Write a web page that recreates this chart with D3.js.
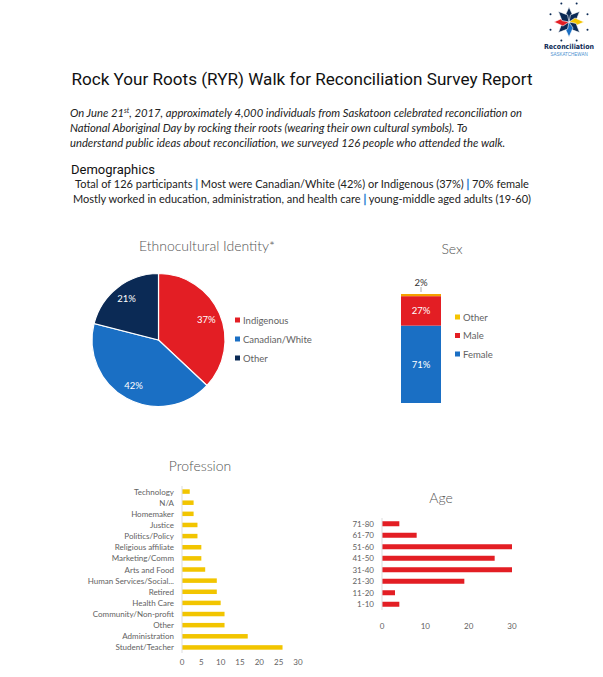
<!DOCTYPE html>
<html>
<head>
    <title>RYR Walk Survey Report</title>
</head>
<body>
<style type="text/css">
    body {
        margin: 0;
        background: #fff;
    }

    #renderer {
        width: 603px;
        height: 677px;
        background: #FFF;
        display: block;
    }
</style>
<script type="text/javascript" src="https://cdnjs.cloudflare.com/ajax/libs/d3/7.8.5/d3.min.js"></script>
<svg id='renderer'></svg>

<script type="text/javascript">
    // data
    var identityNames = ['Indigenous', 'Canadian/White', 'Other'];
    var identityValues = [37, 42, 21];
    var identityColors = ['#e31e24', '#1a6fc4', '#0b2a55'];

    var sexNames = ['Female', 'Male', 'Other'];
    var sexValues = [71, 27, 2];
    var sexColors = ['#1a6fc4', '#e31e24', '#f5c400'];

    var professionNames = ['Technology', 'N/A', 'Homemaker', 'Justice', 'Politics/Policy', 'Religious affiliate',
        'Marketing/Comm', 'Arts and Food', 'Human Services/Social...', 'Retired', 'Health Care',
        'Community/Non-profit', 'Other ', 'Administration', 'Student/Teacher'];
    var professionValues = [2, 3, 3, 4, 4, 5, 5, 6, 9, 9, 10, 11, 11, 17, 26];
    var professionTicks = [0, 5, 10, 15, 20, 25, 30];

    var ageNames = ['71-80', '61-70', '51-60', '41-50', '31-40', '21-30', '11-20', '1-10'];
    var ageValues = [4, 8, 30, 26, 30, 19, 3, 4];
    var ageTicks = [0, 10, 20, 30];

    var root = d3.select('#renderer');
    var textFont = 'Lato, "Open Sans", sans-serif';
    var gray = '#626262';

    // logo
    drawLogo(569, 22);

    // header
    root.append('text')
        .text('Rock Your Roots (RYR) Walk for Reconciliation Survey Report')
        .attr('x', 302).attr('y', 85)
        .attr('font-family', 'Roboto, sans-serif')
        .attr('font-size', 17.1)
        .attr('fill', '#111')
        .attr('text-anchor', 'middle');

    var para = root.append('g')
        .attr('font-family', textFont)
        .attr('font-style', 'italic')
        .attr('font-size', 11.25)
        .attr('fill', '#222');
    var p1 = para.append('text').attr('x', 70).attr('y', 117);
    p1.append('tspan').text('On June 21');
    p1.append('tspan').text('st').attr('font-size', 7).attr('dy', -4);
    p1.append('tspan').text(', 2017, approximately 4,000 individuals from Saskatoon celebrated reconciliation on').attr('dy', 4);
    para.append('text').attr('x', 70).attr('y', 132)
        .text('National Aboriginal Day by rocking their roots (wearing their own cultural symbols). To');
    para.append('text').attr('x', 70).attr('y', 147)
        .text('understand public ideas about reconciliation, we surveyed 126 people who attended the walk.');

    root.append('text')
        .text('Demographics')
        .attr('x', 71).attr('y', 174)
        .attr('font-family', 'Roboto, sans-serif')
        .attr('font-size', 13)
        .attr('fill', '#111');

    var demoLines = [
        ['Total of 126 participants ', ' Most were Canadian/White (42%) or Indigenous (37%) ', ' 70% female'],
        ['Mostly worked in education, administration, and health care ', ' young-middle aged adults (19-60)']
    ];
    demoLines.forEach(function (parts, i) {
        var t = root.append('text')
            .attr('x', 302).attr('y', 188 + i * 15)
            .attr('font-family', textFont)
            .attr('font-size', 11)
            .attr('fill', '#222')
            .attr('text-anchor', 'middle');
        parts.forEach(function (p, j) {
            if (j > 0) t.append('tspan').text('|').attr('fill', '#3d8fd6')
                .attr('stroke', '#3d8fd6').attr('stroke-width', 0.6);
            t.append('tspan').text(p);
        });
    });

    // section titles
    function sectionTitle(label, x, y) {
        root.append('text')
            .text(label)
            .attr('x', x).attr('y', y)
            .attr('font-family', textFont)
            .attr('font-size', 14)
            .attr('font-weight', 300)
            .attr('fill', '#555')
            .attr('text-anchor', 'middle');
    }
    sectionTitle('Ethnocultural Identity*', 207, 251);
    sectionTitle('Sex', 452, 254);
    sectionTitle('Profession', 200, 471);
    sectionTitle('Age', 441, 503);

    drawPie();
    drawSexBar();
    drawHBar(professionNames, professionValues, professionTicks, 182, 298, 486, 653, '#f2c500', 4.5, 662);
    drawHBar(ageNames, ageValues, ageTicks, 382, 512, 518, 610, '#e31e24', 5, 626);

    function drawPie() {
        var cx = 158.5, cy = 340, r = 66.5;
        var pie = d3.pie().sort(null).value(function (d) { return d; });
        var arcs = pie(identityValues);
        var arc = d3.arc().innerRadius(0).outerRadius(r);
        var labelArc = d3.arc().innerRadius(52).outerRadius(52);
        var g = root.append('g').attr('transform', 'translate(' + cx + ',' + cy + ')');
        g.selectAll('path').data(arcs).enter().append('path')
            .attr('d', arc)
            .attr('fill', function (d, i) { return identityColors[i]; })
            .attr('stroke', '#fff')
            .attr('stroke-width', 1.2);
        g.selectAll('text').data(arcs).enter().append('text')
            .text(function (d) { return d.data + '%'; })
            .attr('transform', function (d) {
                var c = labelArc.centroid(d);
                return 'translate(' + c[0] + ',' + c[1] + ')';
            })
            .attr('font-family', textFont)
            .attr('font-size', 9.5)
            .attr('fill', '#fff')
            .attr('text-anchor', 'middle')
            .attr('dominant-baseline', 'central');

        var lg = root.append('g').attr('font-family', textFont).attr('font-size', 9.5).attr('fill', gray);
        identityNames.forEach(function (n, i) {
            var y = 320 + i * 19;
            lg.append('rect').attr('x', 235).attr('y', y - 2.5).attr('width', 5).attr('height', 5)
                .attr('fill', identityColors[i]);
            lg.append('text').text(n).attr('x', 243).attr('y', y)
                .attr('dominant-baseline', 'central');
        });
    }

    function drawSexBar() {
        var y = d3.scaleLinear().domain([0, 100]).range([403, 294]);
        var x0 = 401, w = 40;
        var acc = 0;
        var labelY = [];
        sexValues.forEach(function (v, i) {
            root.append('rect')
                .attr('x', x0)
                .attr('y', y(acc + v))
                .attr('width', w)
                .attr('height', y(acc) - y(acc + v))
                .attr('fill', i === 2 ? '#f5a000' : sexColors[i]);
            labelY.push(y(acc + v / 2));
            acc += v;
        });
        var lt = root.append('g').attr('font-family', textFont).attr('font-size', 9.5).attr('text-anchor', 'middle');
        lt.append('text').text(sexValues[0] + '%').attr('x', x0 + w / 2).attr('y', labelY[0])
            .attr('fill', '#fff').attr('dominant-baseline', 'central');
        lt.append('text').text(sexValues[1] + '%').attr('x', x0 + w / 2).attr('y', labelY[1])
            .attr('fill', '#fff').attr('dominant-baseline', 'central');
        lt.append('text').text(sexValues[2] + '%').attr('x', x0 + w / 2).attr('y', y(100) - 12)
            .attr('fill', '#333').attr('dominant-baseline', 'central');
        root.append('line')
            .attr('x1', x0 + w / 2).attr('x2', x0 + w / 2)
            .attr('y1', y(100) - 7).attr('y2', y(100) - 2)
            .attr('stroke', '#aaa');

        var lg = root.append('g').attr('font-family', textFont).attr('font-size', 9.5).attr('fill', gray);
        [2, 1, 0].forEach(function (idx, i) {
            var yy = 317 + i * 18.5;
            lg.append('rect').attr('x', 455).attr('y', yy - 2.5).attr('width', 5).attr('height', 5)
                .attr('fill', sexColors[idx]);
            lg.append('text').text(sexNames[idx]).attr('x', 463).attr('y', yy)
                .attr('dominant-baseline', 'central');
        });
    }

    function drawHBar(names, values, ticks, xStart, xEnd, yTop, yBottom, color, barH, tickY) {
        var x = d3.scaleLinear().domain([ticks[0], ticks[ticks.length - 1]]).range([xStart, xEnd]);
        var y = d3.scaleBand().domain(names).range([yTop, yBottom]);
        var g = root.append('g').attr('font-family', textFont).attr('font-size', 8);

        g.selectAll('rect').data(values).enter().append('rect')
            .attr('x', x(0))
            .attr('y', function (d, i) { return y(names[i]) + y.bandwidth() / 2 - barH / 2; })
            .attr('width', function (d) { return x(d) - x(0); })
            .attr('height', barH)
            .attr('fill', color);

        g.append('line')
            .attr('x1', x(0)).attr('x2', x(0))
            .attr('y1', yTop).attr('y2', yBottom)
            .attr('stroke', '#ddd');

        g.selectAll('.cat').data(names).enter().append('text')
            .text(function (d) { return d; })
            .attr('x', x(0) - 8)
            .attr('y', function (d) { return y(d) + y.bandwidth() / 2; })
            .attr('text-anchor', 'end')
            .attr('dominant-baseline', 'central')
            .attr('fill', gray);

        g.selectAll('.tick').data(ticks).enter().append('text')
            .text(function (d) { return d; })
            .attr('x', function (d) { return x(d); })
            .attr('y', tickY)
            .attr('text-anchor', 'middle')
            .attr('dominant-baseline', 'central')
            .attr('fill', gray);
    }

    function drawLogo(cx, cy) {
        var g = root.append('g').attr('transform', 'translate(' + cx + ',' + cy + ')');
        var pointColors = ['#0b2a55', '#0b2a55', '#f2c500', '#0b2a55', '#1a6fc4', '#0b2a55', '#e31e24', '#0b2a55'];
        for (var i = 0; i < 8; i++) {
            var a = i * 45;
            g.append('path')
                .attr('d', 'M0,0 L4,-6 L0,-15 L-4,-6 Z')
                .attr('transform', 'rotate(' + a + ')')
                .attr('fill', pointColors[i])
                .attr('stroke', '#fff')
                .attr('stroke-width', 0.6);
            var ra = (a + 22.5) * Math.PI / 180;
            g.append('circle')
                .attr('cx', Math.sin(ra) * 20).attr('cy', -Math.cos(ra) * 20)
                .attr('r', 1).attr('fill', '#0b2a55');
        }
        g.append('text').text('Reconciliation')
            .attr('x', 0).attr('y', 27)
            .attr('font-family', '"Liberation Sans Narrow", "DejaVu Sans Condensed", sans-serif')
            .attr('font-weight', 'bold')
            .attr('font-size', 7)
            .attr('fill', '#0b2a55')
            .attr('text-anchor', 'middle');
        g.append('text').text('SASKATCHEWAN')
            .attr('x', 0).attr('y', 34)
            .attr('font-family', '"Liberation Sans Narrow", sans-serif')
            .attr('font-size', 4.5)
            .attr('fill', '#4a90d0')
            .attr('text-anchor', 'middle');
    }
</script>
</body>
</html>
